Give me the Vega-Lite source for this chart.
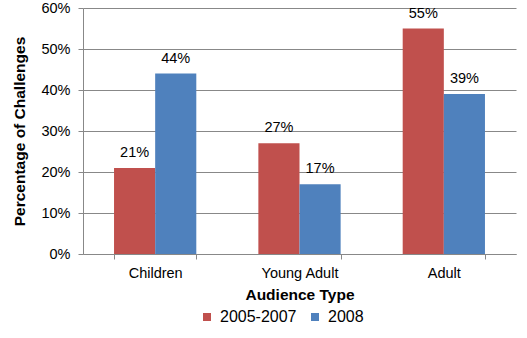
{
  "$schema": "https://vega.github.io/schema/vega-lite/v6.json",
  "width": 433,
  "height": 246,
  "autosize": {"type": "none"},
  "padding": {"left": 83, "top": 8, "right": 11, "bottom": 84},
  "background": "white",
  "config": {
    "font": "Liberation Sans",
    "view": {"stroke": null},
    "axis": {"labelFont": "Liberation Sans", "titleFont": "Liberation Sans", "labelColor": "#000", "titleColor": "#000"}
  },
  "data": {
    "values": [
      {"audience": "Children", "period": "2005-2007", "pct": 0.21},
      {"audience": "Children", "period": "2008", "pct": 0.44},
      {"audience": "Young Adult", "period": "2005-2007", "pct": 0.27},
      {"audience": "Young Adult", "period": "2008", "pct": 0.17},
      {"audience": "Adult", "period": "2005-2007", "pct": 0.55},
      {"audience": "Adult", "period": "2008", "pct": 0.39}
    ]
  },
  "encoding": {
    "x": {
      "field": "audience",
      "type": "nominal",
      "sort": ["Children", "Young Adult", "Adult"],
      "scale": {"paddingInner": 0.43, "paddingOuter": 0.215},
      "axis": {
        "title": "Audience Type",
        "titleFontSize": 15.5,
        "titleFontWeight": "bold",
        "titlePadding": 8,
        "labelFontSize": 14.5,
        "labelAngle": 0,
        "labelPadding": 7,
        "tickBand": "extent",
        "tickSize": 5,
        "tickColor": "#888",
        "domainColor": "#888",
        "grid": false
      }
    },
    "xOffset": {"field": "period", "type": "nominal", "sort": ["2005-2007", "2008"]},
    "y": {
      "field": "pct",
      "type": "quantitative",
      "scale": {"domain": [0, 0.6]},
      "axis": {
        "title": "Percentage of Challenges",
        "titleFontSize": 15.5,
        "titleFontWeight": "bold",
        "titlePadding": 13,
        "format": ".0%",
        "values": [0, 0.1, 0.2, 0.3, 0.4, 0.5, 0.6],
        "labelFontSize": 14.5,
        "labelPadding": 8,
        "tickSize": 5,
        "tickColor": "#888",
        "domainColor": "#888",
        "gridColor": "#888",
        "grid": true
      }
    }
  },
  "layer": [
    {
      "mark": {"type": "bar"},
      "encoding": {
        "color": {
          "field": "period",
          "type": "nominal",
          "scale": {"domain": ["2005-2007", "2008"], "range": ["#C0504D", "#4F81BD"]},
          "legend": {
            "title": null,
            "orient": "none",
            "legendX": 116,
            "legendY": 301,
            "direction": "horizontal",
            "symbolType": "square",
            "symbolSize": 64,
            "symbolStrokeWidth": 0,
            "labelFontSize": 16,
            "labelColor": "#000",
            "labelOffset": 5,
            "columnPadding": 10
          }
        }
      }
    },
    {
      "mark": {"type": "text", "dy": -15, "fontSize": 14.5, "color": "#000"},
      "encoding": {
        "text": {"field": "pct", "type": "quantitative", "format": ".0%"}
      }
    }
  ]
}
